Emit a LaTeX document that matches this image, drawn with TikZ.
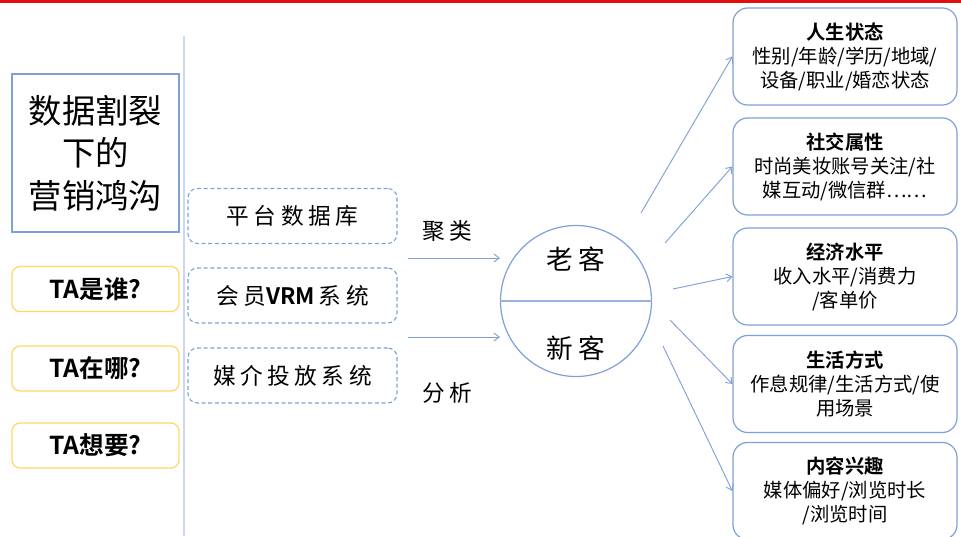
\documentclass[tikz,border=0pt]{standalone}
\usepackage{fontspec}
\setmainfont{Noto Sans CJK SC}
\newfontfamily\cjk{Noto Sans CJK SC}
\newfontfamily\cjks[LetterSpace=20]{Noto Sans CJK SC}
\newfontfamily\cjkb{Noto Sans CJK SC Bold}
\usetikzlibrary{arrows.meta}
\definecolor{bline}{HTML}{7F9FD8}
\definecolor{ylw}{HTML}{FFD966}
\definecolor{redl}{HTML}{E01010}
\tikzset{
  titlebox/.style={draw=bline, line width=0.9pt, minimum width=167*0.75pt, minimum height=158*0.75pt, inner sep=0pt, align=center, font=\cjk\fontsize{25}{32}\selectfont},
  tabox/.style={draw=ylw, line width=1pt, rounded corners=6pt, minimum width=167*0.75pt, minimum height=45*0.75pt, inner sep=0pt, font=\cjkb\fontsize{18.5}{20}\selectfont},
  dbox/.style={draw=bline, dashed, dash pattern=on 3pt off 2pt, line width=0.8pt, rounded corners=7pt, minimum width=209*0.75pt, minimum height=55*0.75pt, inner sep=0pt, font=\cjks\fontsize{17}{20}\selectfont},
  rbox/.style={draw=bline, line width=0.9pt, rounded corners=11pt, minimum width=224*0.75pt, minimum height=97*0.75pt, inner sep=0pt, align=center, font=\cjk\fontsize{14.5}{18}\selectfont},
  arr/.style={draw=bline, line width=0.7pt, -{Straight Barb[length=4pt,width=6pt]}},
  lbl/.style={font=\cjks\fontsize{17}{20}\selectfont},
  cl/.style={font=\cjks\fontsize{20}{24}\selectfont},
}
\begin{document}
\begin{tikzpicture}[x=0.75pt,y=-0.75pt]
\useasboundingbox (0,0) rectangle (961,536);
\draw[redl, line width=1.6pt] (0,1.5) -- (961,1.5);
\draw[bline!40, line width=0.8pt] (184,36) -- (184,536);

\node[titlebox] (title) at (95.5,153) {数据割裂\\下的\\营销鸿沟};
\node[tabox] (ta1) at (95.5,289) {TA是谁?};
\node[tabox] (ta2) at (95.5,368.5) {TA在哪?};
\node[tabox] (ta3) at (95.5,445.5) {TA想要?};

\node[dbox] (d1) at (292.5,216) {平台数据库};
\node[dbox] (d2) at (292.5,295.5) {会员{\cjkb VRM}\hspace{3pt}系统};
\node[dbox] (d3) at (292.5,375.5) {媒介投放系统};

\coordinate (a1s) at (408,258);
\coordinate (a2s) at (408,337);
\node[lbl] (jl) at (447,231) {聚类};
\node[lbl] (fx) at (447,393) {分析};

\node[draw=bline, line width=0.9pt, circle, minimum size=151*0.75pt, inner sep=0pt] (c) at (576,301) {};
\draw[bline!80, line width=0.8pt] (c.west) -- (c.east);
\node[cl] (old) at (576,259) {老客};
\node[cl] (new) at (576,348) {新客};

\draw[arr] (a1s) -- (500,258);
\draw[arr] (a2s) -- (500,337);

\node[rbox] (r1) at (845,56.5) {\cjkb 人生状态\\性别/年龄/学历/地域/\\设备/职业/婚恋状态};
\node[rbox] (r2) at (845,166.5) {\cjkb 社交属性\\时尚美妆账号关注/社\\媒互动/微信群……};
\node[rbox] (r3) at (845,276.5) {\cjkb 经济水平\\收入水平/消费力\\/客单价};
\node[rbox] (r4) at (845,384) {\cjkb 生活方式\\作息规律/生活方式/使\\用场景};
\node[rbox] (r5) at (845,491) {\cjkb 内容兴趣\\媒体偏好/浏览时长\\/浏览时间};

\coordinate (s1) at (641,213);
\coordinate (s2) at (665,243);
\coordinate (s3) at (673,289);
\coordinate (s4) at (670,320);
\coordinate (s5) at (663,346);
\draw[arr] (s1) -- (r1.west);
\draw[arr] (s2) -- (r2.west);
\draw[arr] (s3) -- (r3.west);
\draw[arr] (s4) -- (r4.west);
\draw[arr] (s5) -- (r5.west);
\end{tikzpicture}
\end{document}
